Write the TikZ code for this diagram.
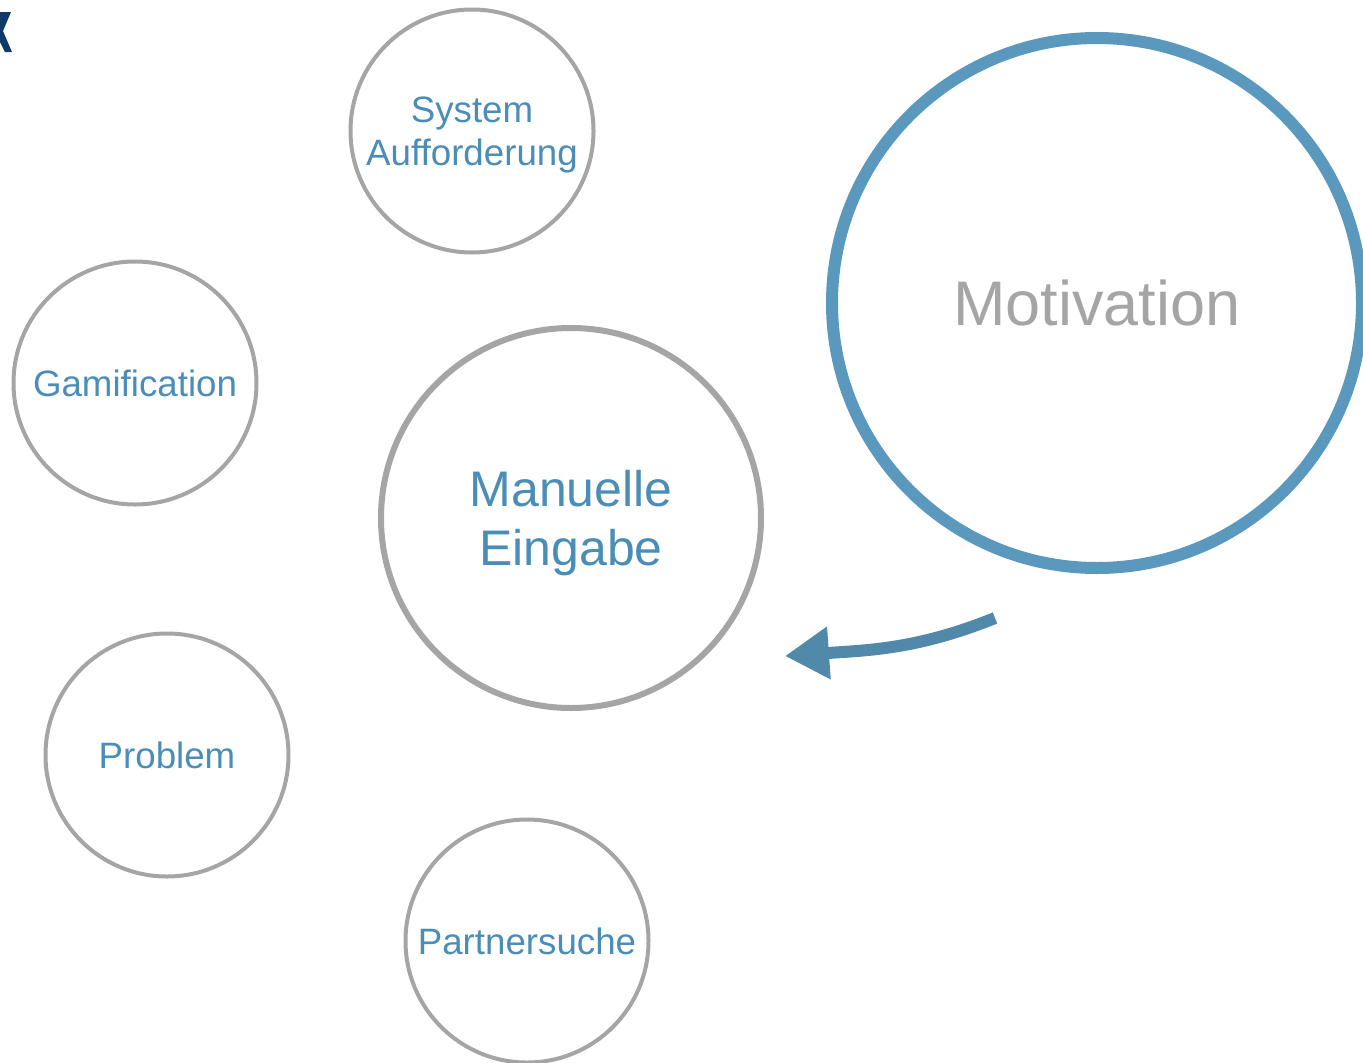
\documentclass[tikz,border=0pt]{standalone}
\usepackage{fontspec}
\setmainfont{Liberation Sans}
\usetikzlibrary{arrows.meta}
\definecolor{txtblue}{HTML}{4A8DB7}
\definecolor{ringgray}{HTML}{A5A5A5}
\definecolor{motblue}{HTML}{5A98BE}
\definecolor{logoblue}{HTML}{0F3A68}
\tikzset{
  bubble/.style={circle,draw=ringgray,line width=4pt,inner sep=0pt,
    minimum size=243pt,text=txtblue,align=center,
    font=\fontsize{36.7}{43}\selectfont},
  twoline/.style={text depth=0pt},
  bigbubble/.style={bubble,line width=6pt,minimum size=380pt,
    font=\fontsize{50}{59}\selectfont},
  motivbubble/.style={circle,draw=motblue,line width=12pt,inner sep=0pt,
    minimum size=530pt,text=ringgray,font=\fontsize{63}{70}\selectfont},
  hintarrow/.style={draw=motblue!90!black,line width=12pt,
    -{Triangle[length=44pt,width=50pt]}}
}
\begin{document}
\begin{tikzpicture}[x=1pt,y=-1pt]
  \useasboundingbox (0,0) rectangle (1363,1063);
  % logo fragment top left
  \fill[logoblue] (0,12) -- (11,12) -- (3,31) -- (12,52) -- (5,52) -- (0,42) -- cycle;
  \node[bubble,twoline] (system) at (472,131) {System\\Aufforderung};
  \node[bubble] (gami) at (135,383) {Gamification};
  \node[bigbubble,twoline] (manuell) at (571,518) {Manuelle\\Eingabe};
  \node[bubble] (problem) at (167,755) {Problem};
  \node[bubble] (partner) at (527,941) {Partnersuche};
  \node[motivbubble] (motiv) at (1097,303) {Motivation};
  \coordinate (arrS) at (995,618);
  \coordinate (arrE) at (785,656);
  \draw[hintarrow] (arrS) to[out=202,in=4] (arrE);
\end{tikzpicture}
\end{document}
